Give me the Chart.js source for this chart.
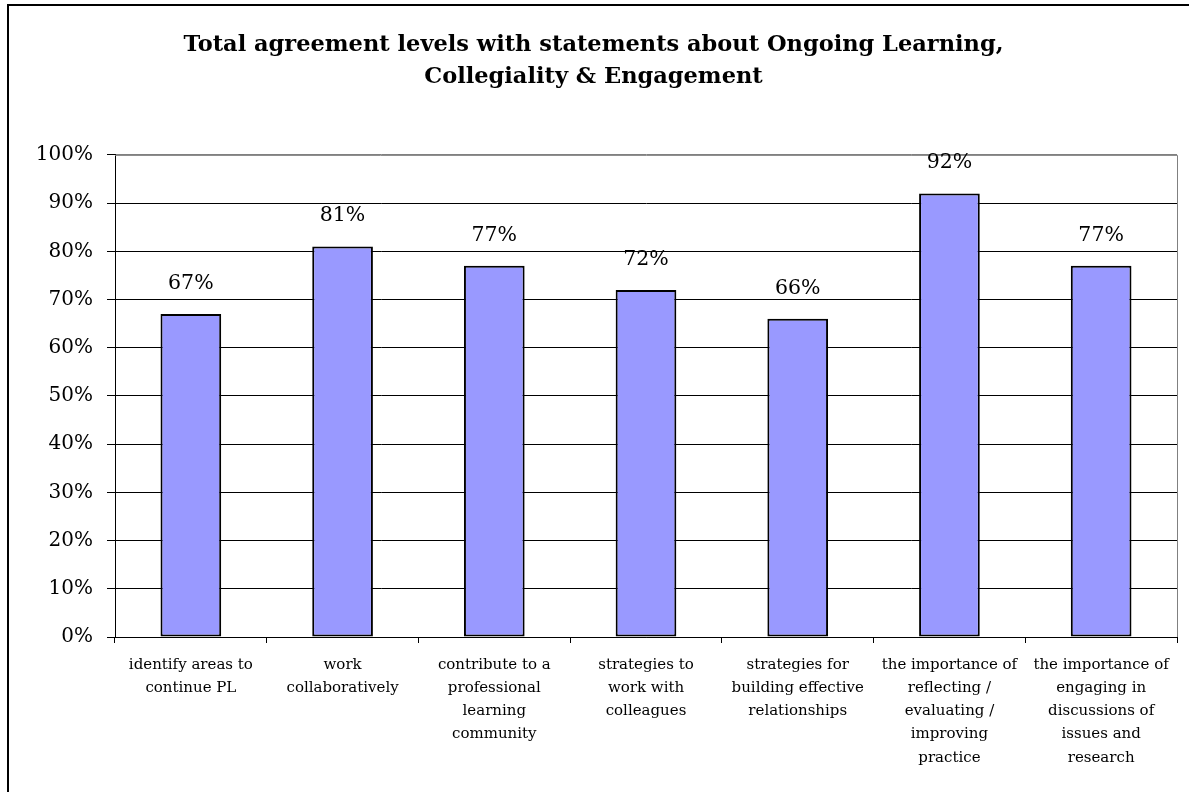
<!DOCTYPE html>
<html>
<head>
<meta charset="utf-8">
<script src="https://cdn.jsdelivr.net/npm/chart.js@4/dist/chart.umd.min.js"></script>
<style>
  html, body { margin: 0; padding: 0; background: #fff; }
  #wrap { width: 1189px; height: 792px; position: relative; }
</style>
</head>
<body>
<div id="wrap"><canvas id="c" width="1189" height="792"></canvas></div>
<script>
// Survey statements (x-axis categories, wrapped into lines)
const categories = [
  ["identify areas to", "continue PL"],
  ["work", "collaboratively"],
  ["contribute to a", "professional", "learning", "community"],
  ["strategies to", "work with", "colleagues"],
  ["strategies for", "building effective", "relationships"],
  ["the importance of", "reflecting /", "evaluating /", "improving", "practice"],
  ["the importance of", "engaging in", "discussions of", "issues and", "research"]
];

// Total agreement, percent
const agreement = [67, 81, 77, 72, 66, 92, 77];

// Y-axis ticks
const yTicks = [0, 10, 20, 30, 40, 50, 60, 70, 80, 90, 100];

const titleLines = [
  "Total agreement levels with statements about Ongoing Learning,",
  "Collegiality & Engagement"
];

const SERIF = "'DejaVu Serif', 'Liberation Serif', serif";

// Outer frame, plot-area border and value labels
const decorations = {
  id: 'decorations',
  beforeDraw(chart) {
    const ctx = chart.ctx;
    ctx.save();
    ctx.fillStyle = '#fff';
    ctx.fillRect(0, 0, chart.width, chart.height);
    ctx.restore();
  },
  afterDraw(chart) {
    const ctx = chart.ctx;
    const a = chart.chartArea;
    ctx.save();
    // gray top/right border of the plot area
    ctx.strokeStyle = '#808080';
    ctx.lineWidth = 1;
    ctx.beginPath();
    ctx.moveTo(a.left, a.top + 0.5);
    ctx.lineTo(a.right + 0.5, a.top + 0.5);
    ctx.lineTo(a.right + 0.5, a.bottom);
    ctx.stroke();
    // value labels above bars
    ctx.fillStyle = '#000';
    ctx.font = '20.5px ' + SERIF;
    ctx.textAlign = 'center';
    ctx.textBaseline = 'alphabetic';
    const meta = chart.getDatasetMeta(0);
    meta.data.forEach((bar, i) => {
      ctx.fillText(agreement[i] + '%', bar.x, bar.y - 25);
    });
    // chart frame
    ctx.strokeStyle = '#000';
    ctx.lineWidth = 2;
    ctx.strokeRect(8, 5, chart.width + 20, chart.height + 20);
    ctx.restore();
  }
};

new Chart(document.getElementById('c'), {
  type: 'bar',
  data: {
    labels: categories,
    datasets: [{
      data: agreement,
      backgroundColor: '#9999FF',
      borderColor: '#000',
      borderWidth: 2,
      borderSkipped: false,
      barPercentage: 0.4,
      categoryPercentage: 1.0
    }]
  },
  options: {
    responsive: false,
    animation: false,
    layout: { padding: { left: 10, right: 12, top: 0, bottom: 0 } },
    plugins: {
      legend: { display: false },
      tooltip: { enabled: false },
      title: {
        display: true,
        text: titleLines,
        color: '#000',
        font: { family: SERIF, size: 22.5, weight: 'bold', lineHeight: 1.42 },
        padding: { top: 29, bottom: 62 }
      }
    },
    scales: {
      x: {
        grid: {
          offset: true,
          drawOnChartArea: false,
          drawTicks: true,
          tickLength: 6,
          tickColor: '#000'
        },
        border: { color: '#000', width: 1 },
        ticks: {
          color: '#000',
          autoSkip: false,
          maxRotation: 0,
          minRotation: 0,
          padding: 10,
          font: { family: SERIF, size: 15, lineHeight: 1.55 }
        },
        afterFit(scale) { scale.height = 155; }
      },
      y: {
        min: 0,
        max: 100,
        afterBuildTicks(scale) {
          scale.ticks = yTicks.map(v => ({ value: v }));
        },
        grid: {
          color: ctx => (ctx.tick && ctx.tick.value === 100) ? '#808080' : '#000',
          lineWidth: 1,
          drawTicks: true,
          tickLength: 8,
          tickColor: '#000'
        },
        border: { color: '#000', width: 1 },
        ticks: {
          color: '#000',
          padding: 14,
          font: { family: SERIF, size: 20 },
          callback: v => v + '%'
        },
        afterFit(scale) { scale.width = 105; }
      }
    }
  },
  plugins: [decorations]
});
</script>
</body>
</html>
